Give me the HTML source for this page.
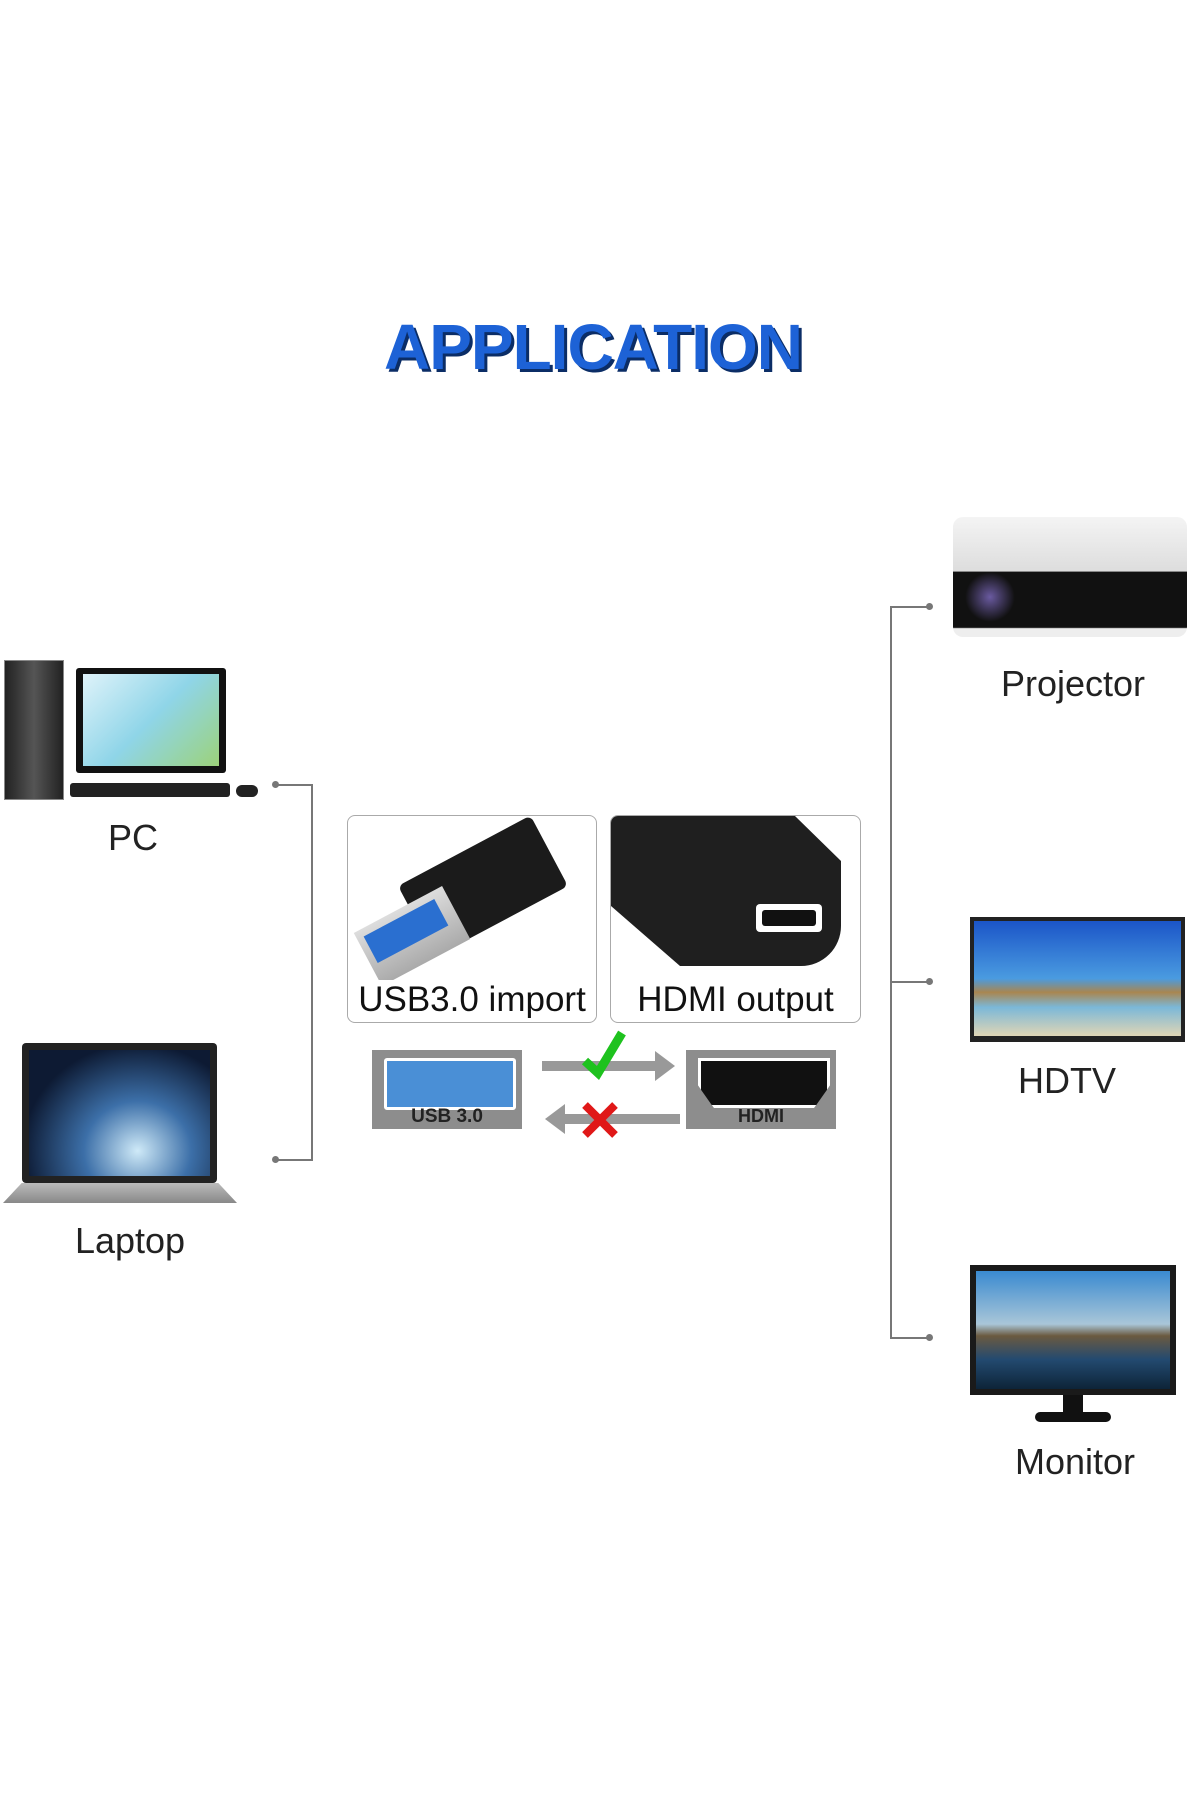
<!DOCTYPE html>
<html><head><meta charset="utf-8"><style>
body{margin:0;width:1200px;height:1800px;background:#fff;position:relative;overflow:hidden;font-family:"Liberation Sans",sans-serif}
.a{position:absolute}
.lbl{position:absolute;font-size:36px;color:#222;transform:translate(-50%,-50%);white-space:nowrap}
.ln{position:absolute;background:#777}
.dot{position:absolute;width:7px;height:7px;border-radius:50%;background:#777}
</style></head><body>
<div class="a" style="left:0;width:1186px;top:310px;text-align:center;font-size:64px;font-weight:bold;color:#1d62d6;letter-spacing:-1px;text-shadow:3px 3px 0 #0b2d66">APPLICATION</div>

<!-- PC -->
<div class="a" style="left:4px;top:660px;width:58px;height:138px;background:linear-gradient(90deg,#222,#555 50%,#222);border:1px solid #888"></div>
<div class="a" style="left:76px;top:668px;width:150px;height:105px;background:#111;border-radius:3px"></div>
<div class="a" style="left:83px;top:674px;width:136px;height:92px;background:linear-gradient(135deg,#dff3fa,#8fd5e8 50%,#9cd27a)"></div>
<div class="a" style="left:70px;top:783px;width:160px;height:14px;background:#222;border-radius:3px"></div>
<div class="a" style="left:236px;top:785px;width:22px;height:12px;background:#222;border-radius:6px"></div>
<div class="lbl" style="left:133px;top:838px">PC</div>

<!-- Laptop -->
<div class="a" style="left:22px;top:1043px;width:195px;height:140px;background:#222;border-radius:4px"></div>
<div class="a" style="left:29px;top:1050px;width:181px;height:126px;background:radial-gradient(ellipse at 60% 80%,#cfeaf8,#3c6fa8 35%,#0d1a33 75%)"></div>
<div class="a" style="left:3px;top:1183px;width:234px;height:20px;background:linear-gradient(#bbb,#888);clip-path:polygon(8% 0,92% 0,100% 100%,0 100%)"></div>
<div class="lbl" style="left:130px;top:1241px">Laptop</div>

<!-- left bracket -->
<div class="dot" style="left:272px;top:781px"></div>
<div class="dot" style="left:272px;top:1156px"></div>
<div class="ln" style="left:276px;top:784px;width:36px;height:2px"></div>
<div class="ln" style="left:276px;top:1159px;width:36px;height:2px"></div>
<div class="ln" style="left:311px;top:784px;width:2px;height:377px"></div>

<!-- center boxes -->
<div class="a" style="left:347px;top:815px;width:248px;height:206px;border:1px solid #aaa;border-radius:8px;overflow:hidden">
  <div class="a" style="left:60px;top:30px;width:150px;height:80px;background:#1b1b1b;transform:rotate(-28deg);border-radius:6px"></div>
  <div class="a" style="left:14px;top:90px;width:100px;height:60px;background:linear-gradient(#ddd,#aaa);transform:rotate(-28deg)"></div>
  <div class="a" style="left:18px;top:100px;width:80px;height:30px;background:#2a6fd0;transform:rotate(-28deg)"></div>
  <div class="a" style="left:0;width:248px;top:164px;text-align:center;font-size:35px;color:#111;height:38px;overflow:hidden;background:#fff">USB3.0 import</div>
</div>
<div class="a" style="left:610px;top:815px;width:249px;height:206px;border:1px solid #aaa;border-radius:8px;overflow:hidden">
  <div class="a" style="left:0;top:0;width:230px;height:150px;background:#1f1f1f;border-radius:0 0 40px 0;clip-path:polygon(0 0,80% 0,100% 30%,100% 100%,30% 100%,0 60%)"></div>
  <div class="a" style="left:145px;top:88px;width:66px;height:28px;background:#fff;border-radius:4px"></div>
  <div class="a" style="left:151px;top:94px;width:54px;height:16px;background:#111;border-radius:3px"></div>
  <div class="a" style="left:0;width:249px;top:164px;text-align:center;font-size:35px;color:#111;height:38px;overflow:hidden;background:#fff">HDMI output</div>
</div>

<!-- bottom icons -->
<div class="a" style="left:372px;top:1050px;width:150px;height:79px;background:#8d8d8d"></div>
<div class="a" style="left:384px;top:1058px;width:126px;height:46px;background:#4a8fd6;border:3px solid #fff;border-radius:3px"></div>
<div class="a" style="left:372px;top:1106px;width:150px;text-align:center;font-size:19px;font-weight:bold;color:#222">USB 3.0</div>
<div class="a" style="left:686px;top:1050px;width:150px;height:79px;background:#8d8d8d"></div>
<div class="a" style="left:698px;top:1058px;width:126px;height:44px;background:#111;border:3px solid #fff;clip-path:polygon(0 0,100% 0,100% 55%,88% 100%,12% 100%,0 55%)"></div>
<div class="a" style="left:686px;top:1106px;width:150px;text-align:center;font-size:18px;font-weight:bold;color:#222">HDMI</div>

<svg class="a" style="left:540px;top:1025px" width="140" height="120">
 <rect x="2" y="36" width="115" height="10" fill="#999"/>
 <polygon points="115,26 135,41 115,56" fill="#999"/>
 <rect x="25" y="89" width="115" height="10" fill="#999"/>
 <polygon points="25,79 5,94 25,109" fill="#999"/>
 <path d="M45 36 L58 48 L82 8" stroke="#1ec21e" stroke-width="9" fill="none"/>
 <path d="M45 80 L75 110 M75 80 L45 110" stroke="#e01818" stroke-width="8"/>
</svg>

<!-- right bracket -->
<div class="ln" style="left:890px;top:606px;width:2px;height:733px"></div>
<div class="ln" style="left:890px;top:606px;width:40px;height:2px"></div>
<div class="ln" style="left:890px;top:981px;width:40px;height:2px"></div>
<div class="ln" style="left:890px;top:1337px;width:40px;height:2px"></div>
<div class="dot" style="left:926px;top:603px"></div>
<div class="dot" style="left:926px;top:978px"></div>
<div class="dot" style="left:926px;top:1334px"></div>

<!-- projector -->
<div class="a" style="left:953px;top:517px;width:234px;height:120px;background:linear-gradient(#f4f4f4 0,#ddd 45%,#111 46%,#111 92%,#eee 93%);border-radius:10px"></div>
<div class="a" style="left:965px;top:572px;width:50px;height:50px;border-radius:50%;background:radial-gradient(#6a5aa0,#111 70%)"></div>
<div class="lbl" style="left:1073px;top:684px">Projector</div>

<!-- HDTV -->
<div class="a" style="left:970px;top:917px;width:215px;height:125px;background:#222"></div>
<div class="a" style="left:974px;top:921px;width:207px;height:115px;background:linear-gradient(#1b55c8,#4a9be0 50%,#a98650 62%,#7bb8d8 75%,#e0d5b5)"></div>
<div class="lbl" style="left:1067px;top:1081px">HDTV</div>

<!-- Monitor -->
<div class="a" style="left:970px;top:1265px;width:206px;height:130px;background:#1a1a1a"></div>
<div class="a" style="left:976px;top:1271px;width:194px;height:118px;background:linear-gradient(#3a8ad0,#a9c6d8 45%,#6b5a40 55%,#234a70 75%,#0d2438)"></div>
<div class="a" style="left:1063px;top:1395px;width:20px;height:18px;background:#111"></div>
<div class="a" style="left:1035px;top:1412px;width:76px;height:10px;background:#111;border-radius:5px"></div>
<div class="lbl" style="left:1075px;top:1462px">Monitor</div>
</body></html>
